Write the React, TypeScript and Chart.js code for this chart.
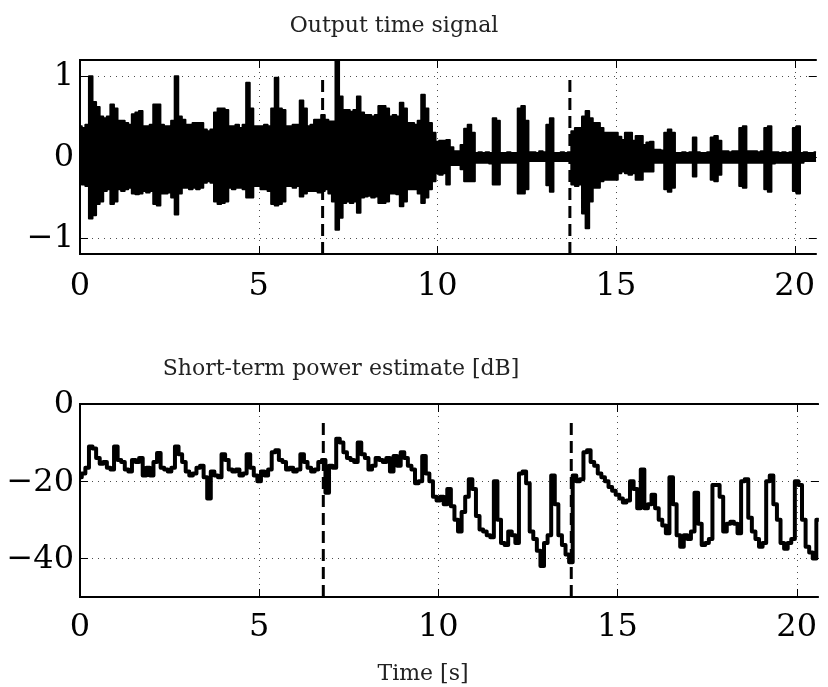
import React, { useEffect, useRef } from 'react';
import { Chart, registerables } from 'chart.js';

Chart.register(...registerables);

// ---------- data ----------
const sampleTimes: number[] = [
  0, 0.1, 0.2, 0.3, 0.4, 0.5, 0.6, 0.7, 0.8, 0.9,
  1, 1.1, 1.2, 1.3, 1.4, 1.5, 1.6, 1.7, 1.8, 1.9,
  2, 2.1, 2.2, 2.3, 2.4, 2.5, 2.6, 2.7, 2.8, 2.9,
  3, 3.1, 3.2, 3.3, 3.4, 3.5, 3.6, 3.7, 3.8, 3.9,
  4, 4.1, 4.2, 4.3, 4.4, 4.5, 4.6, 4.7, 4.8, 4.9,
  5, 5.1, 5.2, 5.3, 5.4, 5.5, 5.6, 5.7, 5.8, 5.9,
  6, 6.1, 6.2, 6.3, 6.4, 6.5, 6.6, 6.7, 6.8, 6.9,
  7, 7.1, 7.2, 7.3, 7.4, 7.5, 7.6, 7.7, 7.8, 7.9,
  8, 8.1, 8.2, 8.3, 8.4, 8.5, 8.6, 8.7, 8.8, 8.9,
  9, 9.1, 9.2, 9.3, 9.4, 9.5, 9.6, 9.7, 9.8, 9.9,
  10, 10.1, 10.2, 10.3, 10.4, 10.5, 10.6, 10.7, 10.8, 10.9,
  11, 11.1, 11.2, 11.3, 11.4, 11.5, 11.6, 11.7, 11.8, 11.9,
  12, 12.1, 12.2, 12.3, 12.4, 12.5, 12.6, 12.7, 12.8, 12.9,
  13, 13.1, 13.2, 13.3, 13.4, 13.5, 13.6, 13.7, 13.8, 13.9,
  14, 14.1, 14.2, 14.3, 14.4, 14.5, 14.6, 14.7, 14.8, 14.9,
  15, 15.1, 15.2, 15.3, 15.4, 15.5, 15.6, 15.7, 15.8, 15.9,
  16, 16.1, 16.2, 16.3, 16.4, 16.5, 16.6, 16.7, 16.8, 16.9,
  17, 17.1, 17.2, 17.3, 17.4, 17.5, 17.6, 17.7, 17.8, 17.9,
  18, 18.1, 18.2, 18.3, 18.4, 18.5, 18.6, 18.7, 18.8, 18.9,
  19, 19.1, 19.2, 19.3, 19.4, 19.5, 19.6, 19.7, 19.8, 19.9,
  20, 20.1, 20.2, 20.3, 20.4, 20.5, 20.6,
];

// upper envelope of the output signal
const signalUpper: number[] = [
  0.38, 0.36, 0.40, 1.00, 0.68, 0.62, 0.50, 0.48, 0.50, 0.65,
  0.60, 0.45, 0.45, 0.42, 0.40, 0.53, 0.55, 0.57, 0.38, 0.38,
  0.40, 0.65, 0.65, 0.40, 0.38, 0.38, 0.45, 1.00, 0.50, 0.46,
  0.40, 0.40, 0.42, 0.42, 0.42, 0.34, 0.32, 0.34, 0.55, 0.60,
  0.60, 0.58, 0.38, 0.38, 0.40, 0.36, 0.40, 0.92, 0.60, 0.38,
  0.38, 0.38, 0.40, 0.38, 0.60, 0.98, 0.60, 0.58, 0.38, 0.38,
  0.40, 0.40, 0.70, 0.60, 0.38, 0.40, 0.46, 0.46, 0.52, 0.46,
  0.44, 0.44, 1.19, 0.75, 0.58, 0.58, 0.56, 0.58, 0.75, 0.55,
  0.52, 0.52, 0.50, 0.52, 0.63, 0.63, 0.60, 0.50, 0.52, 0.50,
  0.67, 0.60, 0.42, 0.42, 0.40, 0.45, 0.77, 0.60, 0.42, 0.30,
  0.19, 0.20, 0.20, 0.21, 0.12, 0.07, 0.07, 0.15, 0.35, 0.40,
  0.30, 0.05, 0.06, 0.05, 0.06, 0.05, 0.48, 0.45, 0.05, 0.05,
  0.06, 0.05, 0.05, 0.60, 0.63, 0.45, 0.06, 0.06, 0.05, 0.07,
  0.06, 0.40, 0.48, 0.05, 0.05, 0.06, 0.05, 0.06, 0.32, 0.36,
  0.36, 0.50, 0.57, 0.48, 0.42, 0.42, 0.36, 0.30, 0.30, 0.30,
  0.30, 0.25, 0.21, 0.30, 0.30, 0.20, 0.26, 0.26, 0.15, 0.18,
  0.19, 0.09, 0.09, 0.08, 0.30, 0.34, 0.30, 0.05, 0.05, 0.06,
  0.05, 0.06, 0.24, 0.06, 0.05, 0.05, 0.06, 0.24, 0.26, 0.20,
  0.07, 0.07, 0.06, 0.07, 0.07, 0.36, 0.38, 0.07, 0.07, 0.07,
  0.06, 0.07, 0.36, 0.38, 0.06, 0.06, 0.05, 0.06, 0.05, 0.06,
  0.36, 0.38, 0.05, 0.06, 0.05, 0.05, 0.06,
];

// lower envelope of the output signal
const signalLower: number[] = [
  -0.32, -0.34, -0.36, -0.76, -0.72, -0.58, -0.55, -0.42, -0.40, -0.58,
  -0.55, -0.40, -0.42, -0.40, -0.38, -0.45, -0.46, -0.45, -0.42, -0.44,
  -0.42, -0.58, -0.60, -0.45, -0.45, -0.44, -0.50, -0.71, -0.45, -0.38,
  -0.38, -0.40, -0.38, -0.40, -0.38, -0.32, -0.30, -0.32, -0.55, -0.58,
  -0.57, -0.55, -0.38, -0.40, -0.38, -0.38, -0.40, -0.50, -0.50, -0.36,
  -0.36, -0.40, -0.40, -0.42, -0.58, -0.60, -0.58, -0.55, -0.36, -0.36,
  -0.38, -0.36, -0.49, -0.45, -0.42, -0.42, -0.42, -0.44, -0.42, -0.40,
  -0.45, -0.55, -0.90, -0.75, -0.57, -0.55, -0.57, -0.55, -0.69, -0.50,
  -0.49, -0.48, -0.50, -0.49, -0.57, -0.57, -0.55, -0.45, -0.45, -0.46,
  -0.61, -0.55, -0.40, -0.40, -0.40, -0.45, -0.57, -0.50, -0.40, -0.30,
  -0.20, -0.22, -0.20, -0.34, -0.10, -0.10, -0.10, -0.15, -0.30, -0.30,
  -0.30, -0.07, -0.07, -0.07, -0.07, -0.08, -0.34, -0.34, -0.07, -0.07,
  -0.07, -0.07, -0.07, -0.45, -0.45, -0.40, -0.05, -0.05, -0.05, -0.05,
  -0.05, -0.35, -0.43, -0.05, -0.05, -0.05, -0.05, -0.05, -0.34, -0.36,
  -0.34, -0.70, -0.88, -0.55, -0.38, -0.38, -0.30, -0.28, -0.28, -0.28,
  -0.28, -0.20, -0.18, -0.20, -0.22, -0.20, -0.28, -0.28, -0.18, -0.18,
  -0.18, -0.07, -0.07, -0.07, -0.40, -0.43, -0.38, -0.07, -0.07, -0.07,
  -0.07, -0.07, -0.24, -0.07, -0.07, -0.07, -0.07, -0.28, -0.30, -0.22,
  -0.07, -0.07, -0.07, -0.07, -0.07, -0.36, -0.38, -0.07, -0.07, -0.07,
  -0.07, -0.07, -0.40, -0.43, -0.08, -0.07, -0.07, -0.07, -0.07, -0.07,
  -0.42, -0.45, -0.07, -0.05, -0.05, -0.05, -0.05,
];

// short-term power estimate [dB]
const powerDb: number[] = [
  -19, -18, -16.5, -11, -11.5, -14, -15.5, -15, -16.5, -17,
  -11, -14.5, -15, -17, -17.5, -14.5, -15, -14, -18.5, -16.5,
  -18.5, -15, -12.7, -16.5, -17, -17.5, -16.5, -11, -13, -15,
  -17.5, -18.5, -18, -16.5, -16, -19, -24.5, -17.5, -18.5, -19,
  -13, -14.5, -17, -17.5, -17, -18.5, -18, -13, -16.5, -18.5,
  -20, -17.5, -18.5, -17, -12.5, -12, -14.5, -15, -17, -16.5,
  -17.5, -17, -13, -15, -16.5, -17.5, -17, -15, -14.5, -23,
  -16, -16.5, -9, -10, -12.5, -14, -14.5, -15, -10, -13,
  -14, -17, -16, -14, -14.5, -15, -14, -17.5, -13.5, -16,
  -12.5, -14, -16, -17, -20.5, -20, -13.5, -18, -20, -24,
  -25, -24, -26, -22, -26.5, -30, -33, -28, -24, -19.5,
  -22, -29, -32.5, -33, -34, -34.5, -20, -30, -36, -36.5,
  -33, -34, -36, -18, -17.5, -20.5, -33, -35, -38, -42,
  -36, -34, -18.5, -26, -34, -36.5, -39, -41, -18.5, -20,
  -19.5, -12.5, -12, -15, -16, -18, -19, -20, -21.5, -22.5,
  -23.5, -24.5, -25.5, -25, -20, -22, -27, -17, -27, -26,
  -23.5, -27, -30, -31.5, -33.5, -19, -26, -34, -37, -34,
  -35, -33, -23, -31, -36.5, -36, -35, -21, -21, -24,
  -33, -31, -30.5, -31, -33.5, -20, -19.5, -29.5, -33, -35,
  -37, -36, -20, -18.5, -26, -30, -36, -37.5, -36, -35,
  -20, -21, -30, -37, -38.5, -40, -30,
];

// segment boundaries (dashed markers)
const markerTimes: number[] = [6.79, 13.71];
const signalMarkerSpan: number[] = [-1.2, 1.0];
const powerMarkerSpan: number[] = [-50, -3.5];

// axes
const timeRange: number[] = [0, 20.62];
const signalRange: number[] = [-1.2, 1.2];
const powerRange: number[] = [-50, 0];
const timeTicks: number[] = [0, 5, 10, 15, 20];
const signalTicks: number[] = [-1, 0, 1];
const powerTicks: number[] = [-40, -20, 0];

const titleSignal = 'Output time signal';
const titlePower = 'Short-term power estimate [dB]';
const labelTime = 'Time [s]';

// ---------- helpers ----------
const TICK_FONT = { family: "'DejaVu Serif', 'Liberation Serif', serif", size: 32 };
const TEXT_FONT = "22px 'DejaVu Serif', 'Liberation Serif', serif";

const fmt = (v: number | string) => {
  const n = Number(v);
  return n < 0 ? '\u2212' + Math.abs(n) : String(n);
};

type TextItem = { text: string; x: number; y: number };

function makeAxesPlugin(texts: TextItem[]) {
  return {
    id: 'matlabAxes',
    beforeDatasetsDraw(chart: any) {
      const { ctx, chartArea: a, scales } = chart;
      ctx.save();
      ctx.strokeStyle = 'rgba(0,0,0,0.7)';
      ctx.lineWidth = 1;
      ctx.setLineDash([1, 5]);
      for (const t of scales.x.ticks) {
        const px = Math.round(scales.x.getPixelForValue(t.value)) + 0.5;
        ctx.beginPath();
        ctx.moveTo(px, a.top);
        ctx.lineTo(px, a.bottom);
        ctx.stroke();
      }
      for (const t of scales.y.ticks) {
        const py = Math.round(scales.y.getPixelForValue(t.value)) + 0.5;
        ctx.beginPath();
        ctx.moveTo(a.left, py);
        ctx.lineTo(a.right, py);
        ctx.stroke();
      }
      ctx.restore();
    },
    afterDatasetsDraw(chart: any) {
      const { ctx, chartArea: a, scales } = chart;
      ctx.save();
      ctx.setLineDash([]);
      ctx.strokeStyle = '#000';
      ctx.lineWidth = 1;
      const tl = 8;
      for (const t of scales.x.ticks) {
        const px = Math.round(scales.x.getPixelForValue(t.value)) + 0.5;
        ctx.beginPath();
        ctx.moveTo(px, a.bottom);
        ctx.lineTo(px, a.bottom - tl);
        ctx.moveTo(px, a.top);
        ctx.lineTo(px, a.top + tl);
        ctx.stroke();
      }
      for (const t of scales.y.ticks) {
        const py = Math.round(scales.y.getPixelForValue(t.value)) + 0.5;
        ctx.beginPath();
        ctx.moveTo(a.left, py);
        ctx.lineTo(a.left + tl, py);
        ctx.moveTo(a.right, py);
        ctx.lineTo(a.right - tl, py);
        ctx.stroke();
      }
      ctx.lineWidth = 2;
      ctx.beginPath();
      ctx.moveTo(a.right, a.top);
      ctx.lineTo(a.left, a.top);
      ctx.lineTo(a.left, a.bottom);
      ctx.lineTo(a.right, a.bottom);
      ctx.stroke();
      ctx.restore();
    },
    afterDraw(chart: any) {
      const { ctx } = chart;
      ctx.save();
      ctx.fillStyle = '#222';
      ctx.font = TEXT_FONT;
      ctx.textAlign = 'center';
      ctx.textBaseline = 'alphabetic';
      for (const t of texts) ctx.fillText(t.text, t.x, t.y);
      ctx.restore();
    },
  };
}

function axisOptions(range: number[], ticks: number[], isX: boolean, size: number, pad: number) {
  return {
    type: 'linear',
    min: range[0],
    max: range[1],
    afterBuildTicks: (s: any) => {
      s.ticks = ticks.map((v) => ({ value: v }));
    },
    afterFit: (s: any) => {
      if (isX) s.height = size;
      else s.width = size;
    },
    grid: { display: false, drawTicks: false },
    border: { display: false },
    ticks: {
      font: TICK_FONT,
      color: '#000',
      padding: pad,
      maxRotation: 0,
      autoSkip: false,
      labelOffset: isX ? 0 : 1,
      callback: (v: any) => fmt(v),
    },
  };
}

function markerDatasets(span: number[]) {
  return markerTimes.map((t) => ({
    data: [
      { x: t, y: span[0] },
      { x: t, y: span[1] },
    ],
    borderColor: '#000',
    borderWidth: 3,
    borderDash: [12, 6],
    pointRadius: 0,
    fill: false,
  }));
}

export default function App() {
  const topRef = useRef<HTMLCanvasElement>(null);
  const botRef = useRef<HTMLCanvasElement>(null);

  useEffect(() => {
    const top = new Chart(topRef.current as HTMLCanvasElement, {
      type: 'line',
      data: {
        datasets: [
          {
            data: sampleTimes.map((t, i) => ({ x: t, y: signalUpper[i] })),
            borderColor: '#000',
            backgroundColor: '#000',
            borderWidth: 2,
            borderJoinStyle: 'round',
            stepped: 'middle',
            pointRadius: 0,
            fill: '+1',
          },
          {
            data: sampleTimes.map((t, i) => ({ x: t, y: signalLower[i] })),
            borderColor: '#000',
            borderWidth: 2,
            borderJoinStyle: 'round',
            stepped: 'middle',
            pointRadius: 0,
            fill: false,
          },
          ...markerDatasets(signalMarkerSpan),
        ],
      },
      options: {
        responsive: false,
        animation: false,
        events: [],
        layout: { padding: { left: 0, right: 0, top: 60, bottom: 0 } },
        plugins: { legend: { display: false }, tooltip: { enabled: false }, title: { display: false } },
        scales: {
          x: axisOptions(timeRange, timeTicks, true, 330 - 254, 13),
          y: axisOptions(signalRange, signalTicks, false, 80, 6),
        },
      } as any,
      plugins: [makeAxesPlugin([{ text: titleSignal, x: 394, y: 32 }])],
    } as any);

    const bot = new Chart(botRef.current as HTMLCanvasElement, {
      type: 'line',
      data: {
        datasets: [
          {
            data: sampleTimes.map((t, i) => ({ x: t, y: powerDb[i] })),
            borderColor: '#000',
            borderWidth: 4,
            borderJoinStyle: 'round',
            borderCapStyle: 'round',
            stepped: 'middle',
            pointRadius: 0,
            fill: false,
          },
          ...markerDatasets(powerMarkerSpan),
        ],
      },
      options: {
        responsive: false,
        animation: false,
        events: [],
        layout: { padding: { left: 0, right: 0, top: 74, bottom: 0 } },
        plugins: { legend: { display: false }, tooltip: { enabled: false }, title: { display: false } },
        scales: {
          x: axisOptions(timeRange, timeTicks, true, 357 - 267, 11),
          y: axisOptions(powerRange, powerTicks, false, 80, 6),
        },
      } as any,
      plugins: [
        makeAxesPlugin([
          { text: titlePower, x: 341, y: 45 },
          { text: labelTime, x: 423, y: 350 },
        ]),
      ],
    } as any);

    return () => {
      top.destroy();
      bot.destroy();
    };
  }, []);

  return (
    <div style={{ position: 'fixed', left: 0, top: 0, width: 828, height: 687, background: '#fff' }}>
      <canvas ref={topRef} width={828} height={330} style={{ position: 'absolute', left: 0, top: 0 }} />
      <canvas ref={botRef} width={828} height={357} style={{ position: 'absolute', left: 0, top: 330 }} />
    </div>
  );
}
